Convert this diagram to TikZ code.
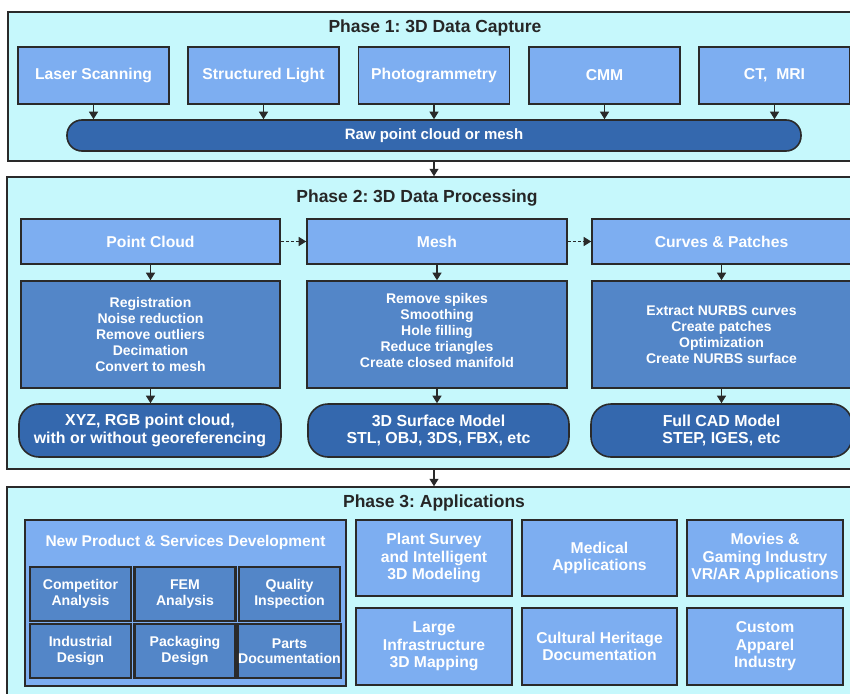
\documentclass[tikz,border=0pt]{standalone}
\usepackage{fontspec}
\setmainfont{Liberation Sans}
\usetikzlibrary{arrows.meta}
\definecolor{phasebg}{HTML}{C6F8FC}
\definecolor{lightbox}{HTML}{7DAEF1}
\definecolor{midbox}{HTML}{5386C8}
\definecolor{darkbox}{HTML}{3468AE}
\definecolor{edge}{HTML}{2A2A2A}
\frenchspacing
\tikzset{
  phase/.style={draw=edge, line width=1.5pt, fill=phasebg, inner sep=0pt},
  ptitle/.style={font=\fontsize{17.5}{20}\selectfont\bfseries, text=black!85, inner sep=0pt},
  lbox/.style={draw=edge, line width=1.6pt, fill=lightbox, inner sep=0pt, text=white, align=center,
    font=\fontsize{15.7}{17.6}\selectfont\bfseries},
  mbox/.style={draw=edge, line width=1.6pt, fill=midbox, inner sep=0pt, text=white, align=center,
    font=\fontsize{14}{16}\selectfont\bfseries},
  mtext/.style={inner sep=0pt, text=white, align=center, font=\fontsize{14}{16}\selectfont\bfseries},
  dbox/.style={draw=edge, line width=1.6pt, fill=darkbox, inner sep=0pt, text=white, align=center,
    font=\fontsize{15.9}{17.2}\selectfont\bfseries},
  sbox/.style={draw=edge, line width=2.4pt, fill=midbox, inner sep=0pt, text=white, align=center,
    font=\fontsize{14.1}{15.4}\selectfont\bfseries},
  arr/.style={draw=edge, line width=1.2pt, -{Triangle[length=7.5pt,width=9pt]}},
  darr/.style={arr, dash pattern=on 3pt off 2pt},
  box/.style n args={2}{minimum width=#1, minimum height=#2}
}
\begin{document}
\begin{tikzpicture}[x=1pt,y=-1pt]
\useasboundingbox[fill=white] (0,0) rectangle (850,693);

% ---------- Phase 1 ----------
\node[phase, box={848pt}{149pt}] (p1) at (432,86.5) {};
\node[ptitle] (t1) at (435,28) {Phase 1: 3D Data Capture};
\node[lbox, box={151pt}{57pt}] (a1) at (93.5,75.5) {Laser Scanning};
\node[lbox, box={151pt}{57pt}] (a2) at (263.5,75.5) {Structured Light};
\node[lbox, box={151pt}{57pt}] (a3) at (434,75.5) {Photogrammetry};
\node[lbox, box={151pt}{57pt}] (a4) at (604.5,75.5) {CMM};
\node[lbox, box={151pt}{57pt}] (a5) at (774.5,75.5) {CT,~ MRI};
\node[dbox, box={734pt}{31pt}, rounded corners=15pt, font=\fontsize{15}{17}\selectfont\bfseries] (raw) at (434,135.5) {Raw point cloud or mesh};
\foreach \i in {1,...,5} \draw[arr] (a\i.south) -- (a\i.south |- raw.north);

% ---------- Phase 2 ----------
\node[phase, box={849pt}{292pt}] (p2) at (431.5,323) {};
\node[ptitle] (t2) at (417,198) {Phase 2: 3D Data Processing};
\draw[arr] (p1.south -| raw) -- (p2.north -| raw);

\node[lbox, box={259pt}{45pt}] (b1) at (150.5,241.5) {Point Cloud};
\node[lbox, box={260pt}{45pt}] (b2) at (437,241.5) {Mesh};
\node[lbox, box={259pt}{45pt}] (b3) at (721.5,241.5) {Curves \& Patches};
\draw[darr] (b1.east) -- (b2.west);
\draw[darr] (b2.east) -- (b3.west);

\node[mbox, box={259pt}{107pt}] (c1) at (150.5,334.5) {Registration\\Noise reduction\\Remove outliers\\Decimation\\Convert to mesh};
\node[mbox, box={260pt}{107pt}] (c2) at (437,334.5) {};
\node[mtext] (c2t) at (437,330) {Remove spikes\\Smoothing\\Hole filling\\Reduce triangles\\Create closed manifold};
\node[mbox, box={259pt}{107pt}] (c3) at (721.5,334.5) {Extract NURBS curves\\Create patches\\Optimization\\Create NURBS surface};

\node[dbox, box={262pt}{53pt}, rounded corners=20pt] (d1) at (150,430.5) {XYZ, RGB point cloud,\\with or without georeferencing};
\node[dbox, box={261pt}{53pt}, rounded corners=20pt] (d2) at (438.5,430.5) {3D Surface Model\\STL, OBJ, 3DS, FBX, etc};
\node[dbox, box={261pt}{53pt}, rounded corners=20pt] (d3) at (721.5,430.5) {Full CAD Model\\STEP, IGES, etc};

\draw[arr] (b1.south) -- (c1.north);
\draw[arr] (b2.south) -- (c2.north);
\draw[arr] (b3.south) -- (c3.north);
\draw[arr] (c1.south) -- (c1.south |- d1.north);
\draw[arr] (c2.south) -- (c2.south |- d2.north);
\draw[arr] (c3.south) -- (c3.south |- d3.north);

% ---------- Phase 3 ----------
\node[phase, box={849pt}{220pt}] (p3) at (431.5,597) {};
\node[ptitle] (t3) at (434,503) {Phase 3: Applications};
\draw[arr] (p2.south -| raw) -- (p3.north -| raw);

\node[lbox, box={321pt}{166pt}] (np) at (185.5,603) {};
\node[text=white, inner sep=0pt, font=\fontsize{15.5}{17}\selectfont\bfseries] (npt) at (185.5,542) {New Product \& Services Development};
\node[sbox, box={101pt}{54pt}] (s1) at (80.5,594) {Competitor\\Analysis};
\node[sbox, box={101pt}{54pt}] (s2) at (185,594) {FEM\\Analysis};
\node[sbox, box={101pt}{54pt}] (s3) at (289.5,594) {Quality\\Inspection};
\node[sbox, box={101pt}{54pt}] (s4) at (80.5,651) {Industrial\\Design};
\node[sbox, box={101pt}{54pt}] (s5) at (185,651) {Packaging\\Design};
\node[sbox, box={101pt}{54pt}] (s6) at (289.5,651) {Parts\\Documentation};

\node[lbox, box={156pt}{76pt}] (r1) at (434,558) {Plant Survey\\and Intelligent\\3D Modeling};
\node[lbox, box={155pt}{76pt}] (r2) at (599.5,558) {Medical\\Applications};
\node[lbox, box={156pt}{76pt}] (r3) at (765,558) {Movies \&\\Gaming Industry\\VR/AR Applications};
\node[lbox, box={156pt}{77pt}] (r4) at (434,646.5) {Large\\Infrastructure\\3D Mapping};
\node[lbox, box={155pt}{77pt}] (r5) at (599.5,646.5) {Cultural Heritage\\Documentation};
\node[lbox, box={156pt}{77pt}] (r6) at (765,646.5) {Custom\\Apparel\\Industry};
\end{tikzpicture}
\end{document}
